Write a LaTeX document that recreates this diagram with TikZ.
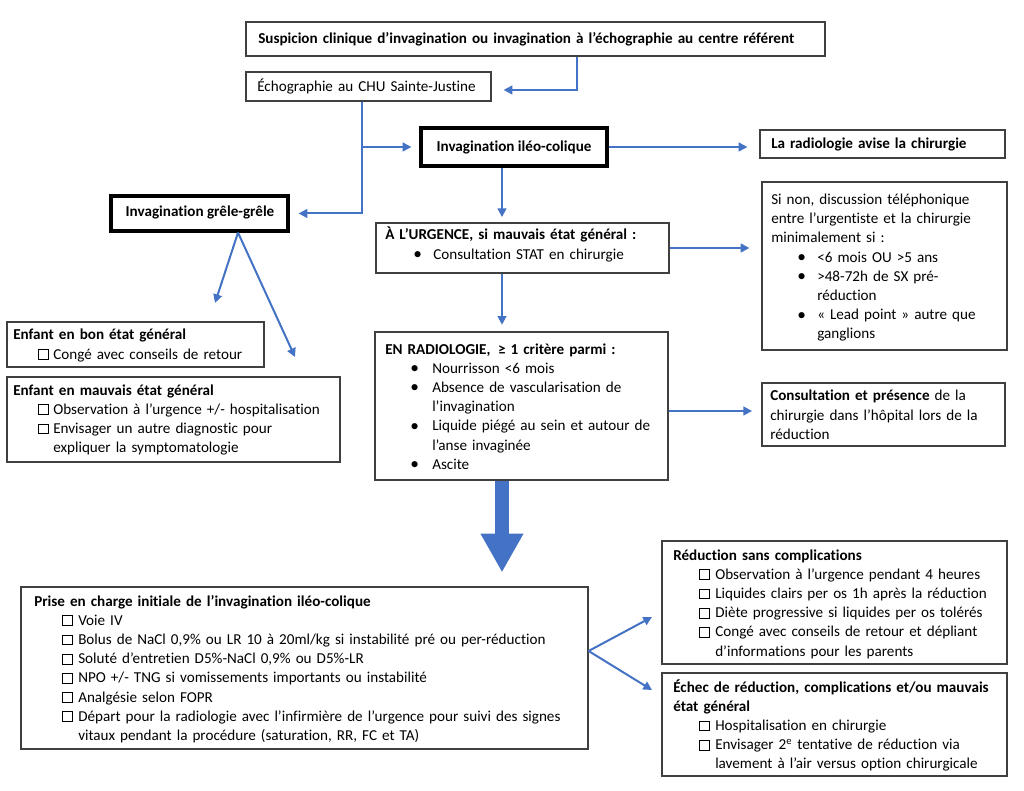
\documentclass[tikz,border=0pt]{standalone}
\usepackage{fontspec}
\setmainfont{Carlito}[Ligatures={NoCommon}]
\usetikzlibrary{arrows.meta,calc,fit}
\definecolor{arrblue}{HTML}{4472C4}
\newcommand\cbx{{\fboxsep=0pt\fboxrule=0.5pt\fbox{\rule{0pt}{6.8pt}\hspace{6.8pt}}}}
\newcommand\bul{\raisebox{-0.3pt}{\fontsize{13}{13}\selectfont •}}
\newcommand\bitem[4]{\par\ifdim\prevdepth>10pt\prevdepth=\dp\strutbox\fi\noindent\hspace*{#1}\makebox[\dimexpr#2-#1\relax][l]{#3}\parbox[t]{15cm}{\raggedright #4\strut}}
\tikzset{
  box/.style={draw=black!75, line width=0.9pt, inner sep=0pt},
  tbox/.style={draw=black, line width=2.4pt, inner sep=0pt},
  txt/.style={anchor=base west, inner sep=0pt, align=left, text width=30cm, font=\fontsize{11.35}{14.4}\selectfont},
  ctxt/.style={anchor=base, inner sep=0pt, font=\fontsize{11.35}{14.4}\selectfont\bfseries},
  arr/.style={draw=arrblue, line width=1.5pt, -{Triangle[length=6.5pt,width=6.5pt]}},
  bigarr/.style={draw=arrblue, line width=10.5pt, -{Triangle[length=29pt,width=30pt]}}
}
\begin{document}
\begin{tikzpicture}[x=0.75pt,y=-0.75pt]
\useasboundingbox (0,0) rectangle (1024,791);
\fill[white] (0,0) rectangle (1024,791);
% boxes
\node[box, fit={(246,22)(825,56)}] (top) {};
\node[box, fit={(246,72)(491,101)}] (echo) {};
\node[tbox, fit={(421,128)(607,166)}] (ileo) {};
\node[box, fit={(760,130)(1005,158)}] (avise) {};
\node[tbox, fit={(111,196)(288,231)}] (gre) {};
\node[box, fit={(376,223)(669,273)}] (urg) {};
\node[box, fit={(762,182)(1007,350)}] (sinon) {};
\node[box, fit={(375,332)(668,480)}] (radio) {};
\node[box, fit={(762,383)(1005,446)}] (consult) {};
\node[box, fit={(7,322)(264,367)}] (bon) {};
\node[box, fit={(7,377)(340,462)}] (mauv) {};
\node[box, fit={(21,587)(588,749)}] (prise) {};
\node[box, fit={(662,541)(1007,664)}] (reduc) {};
\node[box, fit={(662,673)(1007,776)}] (echec) {};
% texts
\node[txt] (ttop) at (258,44) {\textbf{Suspicion clinique d’invagination ou invagination à l’échographie au centre référent}};
\node[txt] (techo) at (257,92) {Échographie au CHU Sainte-Justine};
\node[ctxt] (tileo) at (514,152) {Invagination iléo-colique};
\node[txt] (tavise) at (771,149) {\textbf{La radiologie avise la chirurgie}};
\node[ctxt] (tgre) at (200,217) {Invagination grêle-grêle};
\node[txt] (turg) at (385,240) {\textbf{À L’URGENCE, si mauvais état général :}
  \bitem{21pt}{36pt}{\bul}{Consultation STAT en chirurgie}};
\node[txt] (tsinon) at (771,204.5) {Si non, discussion téléphonique\\entre l’urgentiste et la chirurgie\\minimalement si :
  \bitem{19.5pt}{34.5pt}{\bul}{<6 mois OU >5 ans}
  \bitem{19.5pt}{34.5pt}{\bul}{>48-72h de SX pré-\\réduction}
  \bitem{19.5pt}{34.5pt}{\bul}{« Lead point » autre que\\ganglions}};
\node[txt] (tradio) at (385,354) {\textbf{EN RADIOLOGIE, \,≥ 1 critère parmi :}
  \bitem{18.75pt}{35.25pt}{\bul}{Nourrisson <6 mois}
  \bitem{18.75pt}{35.25pt}{\bul}{Absence de vascularisation de\\l’invagination}
  \bitem{18.75pt}{35.25pt}{\bul}{Liquide piégé au sein et autour de\\l’anse invaginée}
  \bitem{18.75pt}{35.25pt}{\bul}{Ascite}};
\node[txt] (tconsult) at (770,401) {\textbf{Consultation et présence} de la\\chirurgie dans l’hôpital lors de la\\réduction};
\node[txt] (tbon) at (13,340) {\textbf{Enfant en bon état général}
  \bitem{18.75pt}{30pt}{\cbx}{Congé avec conseils de retour}};
\node[txt] (tmauv) at (13,395) {\textbf{Enfant en mauvais état général}
  \bitem{18.75pt}{30pt}{\cbx}{Observation à l’urgence +/- hospitalisation}
  \bitem{18.75pt}{30pt}{\cbx}{Envisager un autre diagnostic pour\\expliquer la symptomatologie}};
\node[txt] (tprise) at (34,606) {\textbf{Prise en charge initiale de l’invagination iléo-colique}
  \bitem{21pt}{33pt}{\cbx}{Voie IV}
  \bitem{21pt}{33pt}{\cbx}{Bolus de NaCl 0,9\% ou LR 10 à 20ml/kg si instabilité pré ou per-réduction}
  \bitem{21pt}{33pt}{\cbx}{Soluté d’entretien D5\%-NaCl 0,9\% ou D5\%-LR}
  \bitem{21pt}{33pt}{\cbx}{NPO +/- TNG si vomissements importants ou instabilité}
  \bitem{21pt}{33pt}{\cbx}{Analgésie selon FOPR}
  \bitem{21pt}{33pt}{\cbx}{Départ pour la radiologie avec l’infirmière de l’urgence pour suivi des signes\\vitaux pendant la procédure (saturation, RR, FC et TA)}};
\node[txt] (treduc) at (673,560) {\textbf{Réduction sans complications}
  \bitem{19.5pt}{31.5pt}{\cbx}{Observation à l’urgence pendant 4 heures}
  \bitem{19.5pt}{31.5pt}{\cbx}{Liquides clairs per os 1h après la réduction}
  \bitem{19.5pt}{31.5pt}{\cbx}{Diète progressive si liquides per os tolérés}
  \bitem{19.5pt}{31.5pt}{\cbx}{Congé avec conseils de retour et dépliant\\d’informations pour les parents}};
\node[txt] (techec) at (673,692) {\textbf{Échec de réduction, complications et/ou mauvais\\état général}
  \bitem{19.5pt}{31.5pt}{\cbx}{Hospitalisation en chirurgie}
  \bitem{19.5pt}{31.5pt}{\cbx}{Envisager 2\textsuperscript{e} tentative de réduction via\\lavement à l’air versus option chirurgicale}};
% helper coordinates
\coordinate (c1) at (577,90);
\coordinate (c2) at (362,145);
\coordinate (c3) at (502,0);
\coordinate (c4) at (0,411);
\coordinate (gs) at (238,231);
\coordinate (g1) at (215,303);
\coordinate (g2) at (295,357);
\coordinate (cv) at (588,651);
\coordinate (ch1) at (652,617);
\coordinate (ch2) at (652,690);
% connectors
\draw[arr, shorten >=9pt] (top.south -| c1) |- (echo.east |- c1);
\draw[arr] (echo.south -| c2) |- ($(gre.east)+(9,0)$);
\draw[arr] (c2 |- ileo.west) -- ($(ileo.west)+(-8,0)$);
\draw[arr, shorten >=9pt] (ileo.east) -- (avise.west |- ileo.east);
\draw[arr, shorten >=4pt] (ileo.south -| c3) -- (urg.north -| c3);
\draw[arr, shorten >=9pt] (urg.east) -- (sinon.west |- urg.east);
\draw[arr, shorten >=5pt] (urg.south -| c3) -- (radio.north -| c3);
\draw[arr, shorten >=7pt] (radio.east |- c4) -- (consult.west |- c4);
\draw[bigarr, shorten >=10.5pt] (radio.south -| c3) -- (prise.north -| c3);
\draw[arr] (gre.south -| gs) -- (g1);
\draw[arr] (gre.south -| gs) -- (g2);
\draw[arr] (prise.east |- cv) -- (ch1);
\draw[arr] (prise.east |- cv) -- (ch2);
\end{tikzpicture}
\end{document}
